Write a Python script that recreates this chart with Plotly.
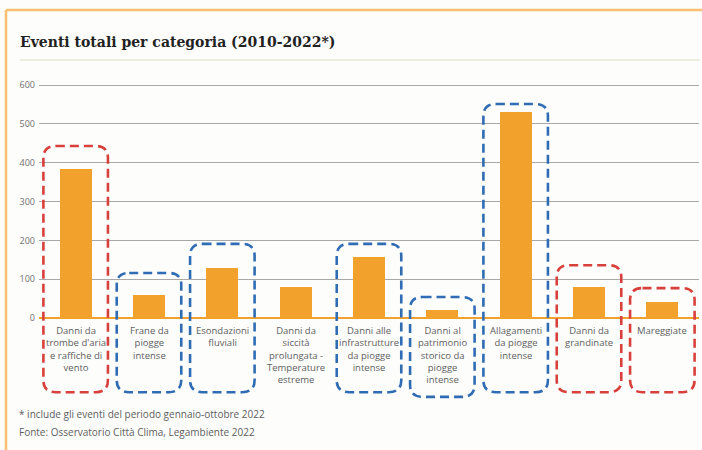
import plotly.graph_objects as go

# Eventi climatici estremi per categoria, 2010-2022 (gen-ott)
categories = [
    "Danni da<br>trombe d'aria<br>e raffiche di<br>vento",
    "Frane da<br>piogge<br>intense",
    "Esondazioni<br>fluviali",
    "Danni da<br>siccità<br>prolungata -<br>Temperature<br>estreme",
    "Danni alle<br>infrastrutture<br>da piogge<br>intense",
    "Danni al<br>patrimonio<br>storico da<br>piogge<br>intense",
    "Allagamenti<br>da piogge<br>intense",
    "Danni da<br>grandinate",
    "Mareggiate",
]
events = [384, 60, 130, 80, 158, 21, 530, 80, 42]
y_ticks = [0, 100, 200, 300, 400, 500, 600]

# Gruppi evidenziati: "wind" = vento/grandine/mare, "rain" = piogge intense
groups = ["wind", "rain", "rain", None, "rain", "rain", "rain", "wind", "wind"]

# Estensione verticale delle cornici tratteggiate (unità dell'asse y)
frame_top = [443, 116, 191, None, 191, 54, 551, 136, 77]
frame_bottom = [-191, -191, -191, None, -191, -203, -191, -191, -191]

BAR = "#f2a22c"
GROUP_COLOR = {"wind": "#d8403c", "rain": "#2f6cb3"}
GREY = "#5e5e5e"
FONT = "Open Sans"

W, H = 702, 450
ML, MR, MT, MB = 39, 3, 80, 45
PW, PH = W - ML - MR, H - MT - MB


def px_x(x):
    """Pixel orizzontale -> coordinata paper."""
    return (x - ML) / PW


def px_y(y):
    """Pixel verticale (dall'alto) -> coordinata paper."""
    return 1 - (y - MT) / PH


x_idx = list(range(len(categories)))

fig = go.Figure(
    go.Bar(
        x=x_idx,
        y=events,
        width=0.44,
        marker=dict(color=BAR, line=dict(width=0)),
        hoverinfo="skip",
    )
)

# Cornici arrotondate attorno alle categorie dei due gruppi
half_w = 0.44
rx = 0.17   # raggio angolo in unità x
ry = 31     # raggio angolo in unità y
for i, g in enumerate(groups):
    if g is None:
        continue
    x0, x1 = i - half_w, i + half_w
    y0, y1 = frame_bottom[i], frame_top[i]
    path = (
        f"M {x0+rx},{y1} L {x1-rx},{y1} Q {x1},{y1} {x1},{y1-ry} "
        f"L {x1},{y0+ry} Q {x1},{y0} {x1-rx},{y0} "
        f"L {x0+rx},{y0} Q {x0},{y0} {x0},{y0+ry} "
        f"L {x0},{y1-ry} Q {x0},{y1} {x0+rx},{y1} Z"
    )
    fig.add_shape(
        type="path", path=path, xref="x", yref="y",
        line=dict(color=GROUP_COLOR[g], width=2.6, dash="9px,5px"),
        fillcolor="rgba(0,0,0,0)", layer="above",
    )

# Etichette di categoria sotto la linea dello zero
for i, label in enumerate(categories):
    fig.add_annotation(
        x=i, y=0, xref="x", yref="y", text=label, showarrow=False,
        yanchor="top", yshift=-4, align="center",
        font=dict(family=FONT, size=9.5, color=GREY),
    )

# Titolo e note a piè di grafico
fig.add_annotation(
    x=px_x(18), y=px_y(42), xref="paper", yref="paper",
    text="<b>Eventi totali per categoria (2010-2022*)</b>",
    showarrow=False, xanchor="left", yanchor="middle",
    font=dict(family="DejaVu Serif", size=14, color="#222222"),
)
fig.add_annotation(
    x=px_x(17), y=px_y(414), xref="paper", yref="paper",
    text="* include gli eventi del periodo gennaio-ottobre 2022",
    showarrow=False, xanchor="left", yanchor="middle",
    font=dict(family=FONT, size=10, color=GREY),
)
fig.add_annotation(
    x=px_x(17), y=px_y(432), xref="paper", yref="paper",
    text="Fonte: Osservatorio Città Clima, Legambiente 2022",
    showarrow=False, xanchor="left", yanchor="middle",
    font=dict(family=FONT, size=10, color=GREY),
)

# Cornice arancione e filetto sotto il titolo
FRAME = "#f9c071"
fig.add_shape(type="line", xref="paper", yref="paper",
              x0=px_x(6), x1=px_x(702), y0=px_y(10), y1=px_y(10),
              line=dict(color=FRAME, width=2.5))
fig.add_shape(type="line", xref="paper", yref="paper",
              x0=px_x(6), x1=px_x(6), y0=px_y(10), y1=px_y(452),
              line=dict(color=FRAME, width=2.5))
fig.add_shape(type="line", xref="paper", yref="paper",
              x0=px_x(20), x1=px_x(700), y0=px_y(60), y1=px_y(60),
              line=dict(color="#e6ead6", width=1.5))

fig.update_layout(
    width=W, height=H,
    margin=dict(l=ML, r=MR, t=MT, b=MB),
    paper_bgcolor="#fdfdfc", plot_bgcolor="rgba(0,0,0,0)",
    showlegend=False,
    bargap=0,
    xaxis=dict(range=[-0.5, 8.5], visible=False, fixedrange=True),
    yaxis=dict(
        range=[-224, 613], tickvals=y_ticks, ticktext=[str(v) for v in y_ticks],
        showgrid=True, gridcolor="#a8a8a8", gridwidth=1,
        zeroline=True, zerolinecolor=BAR, zerolinewidth=2,
        showline=False, ticks="", ticklabelstandoff=3,
        tickfont=dict(family=FONT, size=9, color="#707070"),
        fixedrange=True,
    ),
)

fig.write_html("out.html")
